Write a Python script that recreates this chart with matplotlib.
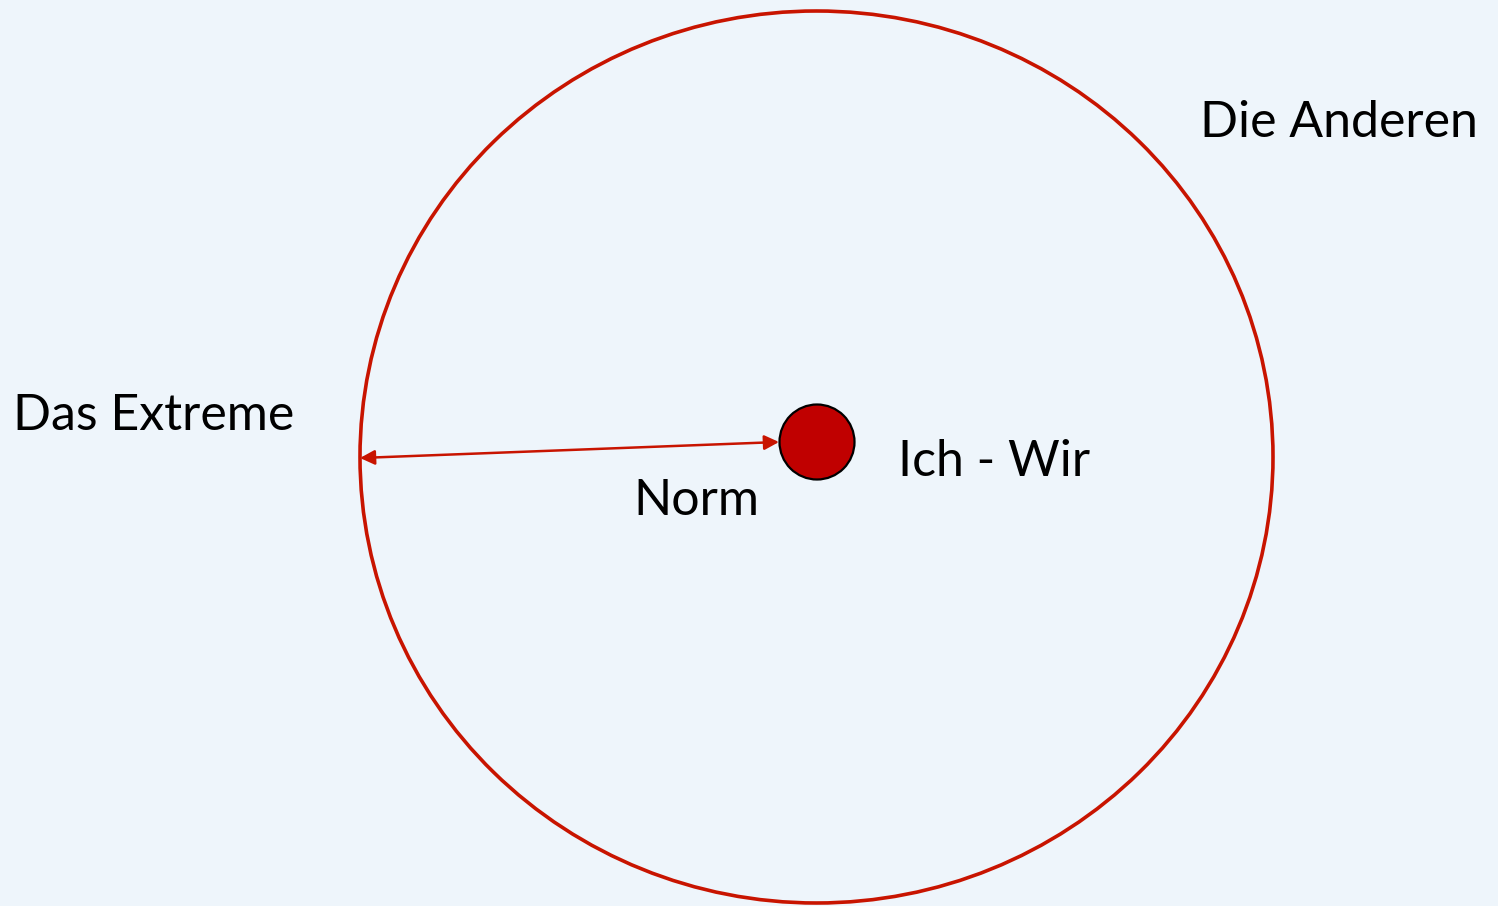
import matplotlib.pyplot as plt
from matplotlib.patches import Ellipse, Circle

# diagram content
labels = ['Die Anderen', 'Das Extreme', 'Norm', 'Ich - Wir']
label_x = [1200, 13, 633, 898]
label_y = [137, 430, 515, 476]

outer_center = (816.5, 457)
outer_size = (913, 892)
inner_center = (817, 442)
inner_radius = 37.5
arrow_start = (360, 458)
arrow_end = (779, 442)

bg = '#eef5fb'
red_line = '#c81400'
red_fill = '#c00000'

fig = plt.figure(figsize=(14.98, 9.06), dpi=100)
fig.patch.set_facecolor(bg)
ax = fig.add_axes([0, 0, 1, 1])
ax.set_facecolor(bg)
ax.set_xlim(0, 1498)
ax.set_ylim(906, 0)
ax.axis('off')

ax.add_patch(Ellipse(outer_center, outer_size[0], outer_size[1],
                     fill=False, edgecolor=red_line, linewidth=2.6))
ax.add_patch(Circle(inner_center, inner_radius, facecolor=red_fill,
                    edgecolor='black', linewidth=1.6, zorder=3))
ax.annotate('', xy=arrow_end, xytext=arrow_start,
            arrowprops=dict(arrowstyle='<|-|>', color=red_line, lw=1.8,
                            mutation_scale=22, shrinkA=0, shrinkB=0))

for text, x, y in zip(labels, label_x, label_y):
    ax.text(x, y, text, fontsize=36, family='Lato', color='black',
            ha='left', va='baseline')

fig.savefig('out.png', dpi=100, facecolor=bg)
